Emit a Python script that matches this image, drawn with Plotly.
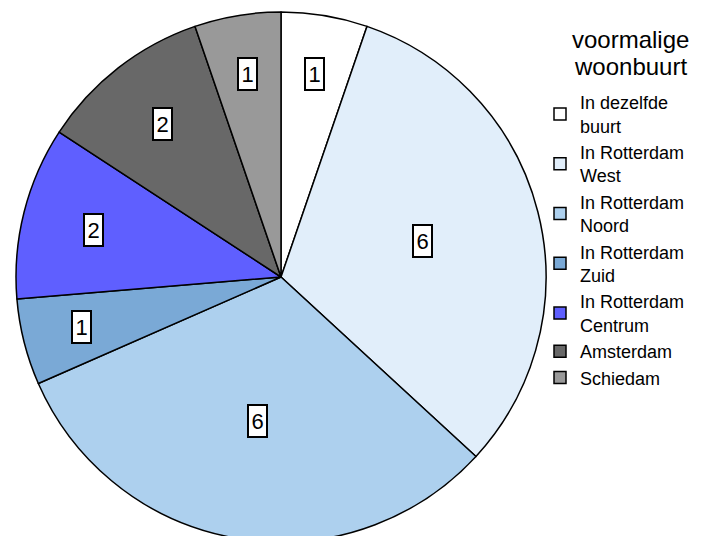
import math
import plotly.graph_objects as go

categories = ["In dezelfde<br>buurt", "In Rotterdam<br>West", "In Rotterdam<br>Noord",
              "In Rotterdam<br>Zuid", "In Rotterdam<br>Centrum", "Amsterdam", "Schiedam"]
values = [1, 6, 6, 1, 2, 2, 1]
colors = ["#FFFFFF", "#E1EEFA", "#ADD0EE", "#7AA9D6", "#5F5FFF", "#686868", "#999999"]
legend_title_lines = ["voormalige", "woonbuurt"]

W, H = 704, 536
dom_x = [8 / W, 538 / W]
dom_y = [2 / H, 532 / H]

fig = go.Figure(go.Pie(
    labels=categories, values=values, sort=False, direction="clockwise",
    marker=dict(colors=colors, line=dict(color="black", width=1.5)),
    textinfo="none", hoverinfo="label+value", domain=dict(x=dom_x, y=dom_y),
))

# label boxes placed at each slice's mid-angle
cx_px = (dom_x[0] + dom_x[1]) / 2 * W
cy_px = (dom_y[0] + dom_y[1]) / 2 * H
R = min((dom_x[1] - dom_x[0]) * W, (dom_y[1] - dom_y[0]) * H) / 2
total = sum(values)
cum = 0
annotations = []
for v in values:
    mid = cum + v / 2
    cum += v
    ang = math.radians(90 - mid / total * 360)
    rf = 0.82 - 0.045 * v
    x = (cx_px + rf * R * math.cos(ang)) / W
    y = (cy_px + rf * R * math.sin(ang)) / H
    annotations.append(dict(
        x=x, y=y, xref="paper", yref="paper", xanchor="center", yanchor="middle",
        text=str(v), showarrow=False,
        font=dict(family="Liberation Sans, Arial", size=22, color="black"),
        bgcolor="white", bordercolor="black", borderwidth=2, borderpad=2.5,
    ))

# legend title, one annotation per line for tight leading
for i, line in enumerate(legend_title_lines):
    annotations.append(dict(
        x=622 / W, y=1 - (32 + 26 * i) / H, xref="paper", yref="paper",
        xanchor="center", yanchor="middle", text=line, showarrow=False,
        font=dict(family="Liberation Sans, Arial", size=24, color="black"),
    ))

fig.update_layout(
    width=W, height=H, margin=dict(l=0, r=0, t=0, b=0),
    paper_bgcolor="white", plot_bgcolor="white",
    font=dict(family="Liberation Sans, Arial", color="black"),
    annotations=annotations,
    legend=dict(
        x=532 / W, y=1 - 76 / H, xanchor="left", yanchor="top",
        bgcolor="rgba(0,0,0,0)",
        font=dict(size=18), tracegroupgap=0, itemwidth=30,
    ),
)

fig.write_html("out.html")
